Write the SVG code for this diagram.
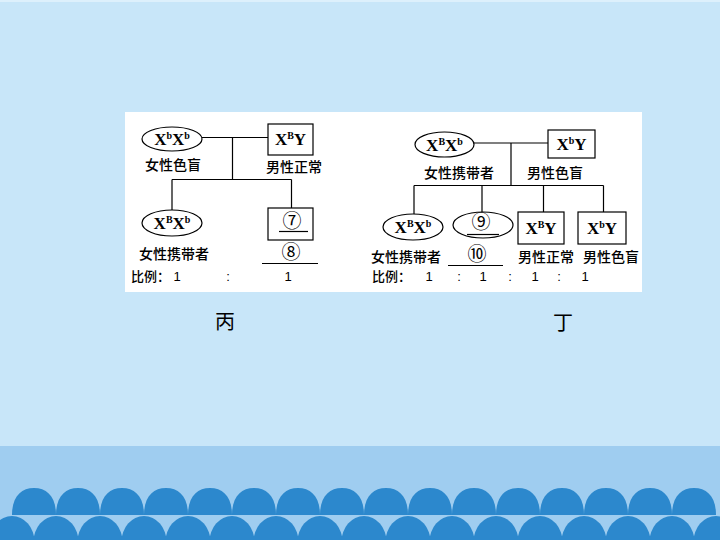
<svg xmlns="http://www.w3.org/2000/svg" width="720" height="540" viewBox="0 0 720 540">
<defs>
<style>
.ln{stroke:#000;stroke-width:1.2;fill:none}
.nd{stroke:#000;stroke-width:1.2;fill:#fff}
.g{font-family:"Liberation Serif",serif;font-weight:bold;font-size:17px;fill:#000}
.sup{font-size:10px}
.cn{font-family:"Noto Sans CJK SC","Noto Sans CJK JP",sans-serif;font-size:14px;font-weight:500;fill:#000}
.cs{font-family:"Noto Sans CJK SC","Noto Sans CJK JP",sans-serif;font-size:13px;font-weight:500;fill:#000}
.num{font-family:"Liberation Sans",sans-serif;font-size:13px;fill:#000}
.cir{font-family:"Noto Sans CJK SC",sans-serif;font-size:19px;fill:#000}
.lbl{font-family:"Noto Sans CJK SC",sans-serif;font-size:20px;fill:#000}
.arch{fill:#2C88CD}
</style>
<path id="a1" d="M-22,0 C-22,-18 -13,-27 0,-27 C13,-27 22,-18 22,0 Z"/>
<ellipse id="a2" cx="0" cy="0" rx="22.5" ry="26"/>
</defs>
<rect x="0" y="0" width="720" height="540" fill="#C8E6F9"/>
<rect x="0" y="0" width="720" height="2" fill="#DDF0FC"/>
<rect x="0" y="446" width="720" height="94" fill="#9FCDF0"/>
<g id="waves" class="arch">
<use href="#a1" x="34" y="515"/><use href="#a1" x="78" y="515"/><use href="#a1" x="122" y="515"/><use href="#a1" x="166" y="515"/>
<use href="#a1" x="210" y="515"/><use href="#a1" x="254" y="515"/><use href="#a1" x="298" y="515"/><use href="#a1" x="342" y="515"/>
<use href="#a1" x="386" y="515"/><use href="#a1" x="430" y="515"/><use href="#a1" x="474" y="515"/><use href="#a1" x="518" y="515"/>
<use href="#a1" x="562" y="515"/><use href="#a1" x="606" y="515"/><use href="#a1" x="650" y="515"/><use href="#a1" x="694" y="515"/>
<use href="#a2" x="12" y="542"/><use href="#a2" x="56" y="542"/><use href="#a2" x="100" y="542"/><use href="#a2" x="144" y="542"/>
<use href="#a2" x="188" y="542"/><use href="#a2" x="232" y="542"/><use href="#a2" x="276" y="542"/><use href="#a2" x="320" y="542"/>
<use href="#a2" x="364" y="542"/><use href="#a2" x="408" y="542"/><use href="#a2" x="452" y="542"/><use href="#a2" x="496" y="542"/>
<use href="#a2" x="540" y="542"/><use href="#a2" x="584" y="542"/><use href="#a2" x="628" y="542"/><use href="#a2" x="672" y="542"/>
<use href="#a2" x="716" y="542"/>
</g>
<rect x="125" y="112" width="517" height="180" fill="#fff"/>
<g id="connectors">
<path class="ln" d="M202,137.5 H268 M232.5,137.5 V179.5 M172,179.5 H291.5 M172,179.5 V210 M291.5,179.5 V208"/>
<path class="ln" d="M474,143 H548 M511,143 V185.5 M414,185.5 H603.5 M414,185.5 V214 M482,185.5 V212 M543.5,185.5 V212 M603.5,185.5 V212"/>
</g>
<g id="p1_mother">
<ellipse class="nd" cx="172" cy="139" rx="30" ry="12"/>
<text class="g" x="172" y="145" text-anchor="middle">X<tspan class="sup" dy="-6">b</tspan><tspan dy="6">X</tspan><tspan class="sup" dy="-6">b</tspan></text>
<text class="cn" x="173" y="170" text-anchor="middle">女性色盲</text>
</g>
<g id="p1_father">
<rect class="nd" x="268" y="124" width="45" height="31"/>
<text class="g" x="290.5" y="145" text-anchor="middle">X<tspan class="sup" dy="-6">B</tspan><tspan dy="6">Y</tspan></text>
<text class="cn" x="294" y="172" text-anchor="middle">男性正常</text>
</g>
<g id="p1_daughter">
<ellipse class="nd" cx="172" cy="223" rx="30" ry="13"/>
<text class="g" x="172" y="229" text-anchor="middle">X<tspan class="sup" dy="-6">B</tspan><tspan dy="6">X</tspan><tspan class="sup" dy="-6">b</tspan></text>
<text class="cn" x="174" y="259" text-anchor="middle">女性携带者</text>
</g>
<g id="p1_son">
<rect class="nd" x="268" y="208" width="45" height="32"/>
<text class="cir" x="292" y="227.5" text-anchor="middle">⑦</text>
<path class="ln" d="M279,231.5 H308"/>
<text class="cir" x="291" y="258.5" text-anchor="middle">⑧</text>
<path class="ln" d="M262,263.5 H318"/>
</g>
<g id="p1_ratio">
<text class="cs" x="131" y="281">比例：</text>
<text class="num" x="177" y="281" text-anchor="middle">1</text>
<text class="num" x="228" y="281" text-anchor="middle">:</text>
<text class="num" x="288" y="281" text-anchor="middle">1</text>
</g>
<g id="p2_mother">
<ellipse class="nd" cx="444.5" cy="144.5" rx="29.5" ry="12.5"/>
<text class="g" x="444.5" y="150.5" text-anchor="middle">X<tspan class="sup" dy="-6">B</tspan><tspan dy="6">X</tspan><tspan class="sup" dy="-6">b</tspan></text>
<text class="cn" x="459" y="178" text-anchor="middle">女性携带者</text>
</g>
<g id="p2_father">
<rect class="nd" x="548" y="130" width="47" height="28"/>
<text class="g" x="571.5" y="150" text-anchor="middle">X<tspan class="sup" dy="-6">b</tspan><tspan dy="6">Y</tspan></text>
<text class="cn" x="555" y="178" text-anchor="middle">男性色盲</text>
</g>
<g id="p2_c1">
<ellipse class="nd" cx="413" cy="227" rx="30" ry="13"/>
<text class="g" x="413" y="233" text-anchor="middle">X<tspan class="sup" dy="-6">B</tspan><tspan dy="6">X</tspan><tspan class="sup" dy="-6">b</tspan></text>
<text class="cn" x="406" y="261.5" text-anchor="middle">女性携带者</text>
</g>
<g id="p2_c2">
<ellipse class="nd" cx="483" cy="225" rx="30" ry="13"/>
<text class="cir" x="481" y="229" text-anchor="middle">⑨</text>
<path class="ln" d="M467,234.5 H499"/>
<text class="cir" x="477" y="260.5" text-anchor="middle">⑩</text>
<path class="ln" d="M448,265.5 H503"/>
</g>
<g id="p2_c3">
<rect class="nd" x="518" y="212" width="46" height="32"/>
<text class="g" x="541" y="234" text-anchor="middle">X<tspan class="sup" dy="-6">B</tspan><tspan dy="6">Y</tspan></text>
<text class="cn" x="546" y="261.5" text-anchor="middle">男性正常</text>
</g>
<g id="p2_c4">
<rect class="nd" x="578" y="212" width="48" height="32"/>
<text class="g" x="602" y="234" text-anchor="middle">X<tspan class="sup" dy="-6">b</tspan><tspan dy="6">Y</tspan></text>
<text class="cn" x="611" y="261.5" text-anchor="middle">男性色盲</text>
</g>
<g id="p2_ratio">
<text class="cs" x="372" y="281">比例：</text>
<text class="num" x="429" y="281" text-anchor="middle">1</text>
<text class="num" x="459" y="281" text-anchor="middle">:</text>
<text class="num" x="483" y="281" text-anchor="middle">1</text>
<text class="num" x="510" y="281" text-anchor="middle">:</text>
<text class="num" x="535" y="281" text-anchor="middle">1</text>
<text class="num" x="559" y="281" text-anchor="middle">:</text>
<text class="num" x="585" y="281" text-anchor="middle">1</text>
</g>
<text class="lbl" x="225" y="329" text-anchor="middle">丙</text>
<text class="lbl" x="563" y="330" text-anchor="middle">丁</text>
</svg>
